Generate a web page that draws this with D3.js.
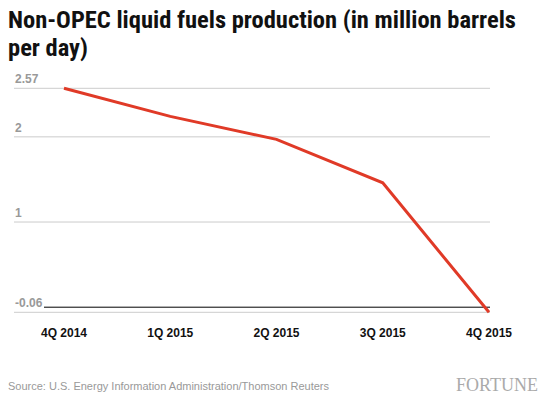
<!DOCTYPE html><html><head><meta charset="utf-8"><script src="https://cdn.jsdelivr.net/npm/d3@7/dist/d3.min.js"></script>
<style>body{margin:0;background:#fff}</style></head><body><svg id="c" width="545" height="400"></svg>
<script>
const categories=["4Q 2014","1Q 2015","2Q 2015","3Q 2015","4Q 2015"];
const values=[2.57,2.24,1.97,1.46,-0.06];
const yTicks=[2.57,2,1,-0.06];
const yTickLabels=["2.57","2","1","-0.06"];
const svg=d3.select("#c");
const x=d3.scalePoint().domain(categories).range([64,489]);
const y=d3.scaleLinear().domain([-0.06,2.57]).range([312.3,88.3]);
const tf="'Liberation Sans Narrow','Roboto Condensed',Arial";
svg.append("text").attr("x",8).attr("y",28).attr("font-family",tf).attr("font-weight","bold").attr("font-size",24.5).attr("fill","#111").text("Non-OPEC liquid fuels production (in million barrels");
svg.append("text").attr("x",8).attr("y",56).attr("font-family",tf).attr("font-weight","bold").attr("font-size",24.5).attr("fill","#111").text("per day)");
svg.selectAll(".g").data(yTicks).join("line").attr("x1",14).attr("x2",490).attr("y1",d=>y(d)).attr("y2",d=>y(d)).attr("stroke","#ccc");
svg.selectAll(".yl").data(yTicks).join("text").attr("x",15).attr("y",d=>y(d)-5).attr("font-family","Arial").attr("font-weight","bold").attr("font-size",12).attr("fill","#999").text((d,i)=>yTickLabels[i]);
svg.append("line").attr("x1",44).attr("x2",490).attr("y1",y(0)).attr("y2",y(0)).attr("stroke","#000");
svg.append("path").datum(values).attr("fill","none").attr("stroke","#e03a27").attr("stroke-width",3)
 .attr("d",d3.line().x((d,i)=>x(categories[i])).y(d=>y(d)));
svg.selectAll(".xl").data(categories).join("text").attr("x",d=>x(d)).attr("y",337).attr("text-anchor","middle").attr("font-family","Arial").attr("font-weight","bold").attr("font-size",12).attr("fill","#111").text(d=>d);
svg.append("text").attr("x",8).attr("y",390).attr("font-family","Arial").attr("font-size",11).attr("fill","#999").text("Source: U.S. Energy Information Administration/Thomson Reuters");
svg.append("text").attr("x",538).attr("y",391).attr("text-anchor","end").attr("font-family","'Liberation Serif',serif").attr("font-size",18).attr("fill","#aaa").text("FORTUNE");
</script></body></html>
